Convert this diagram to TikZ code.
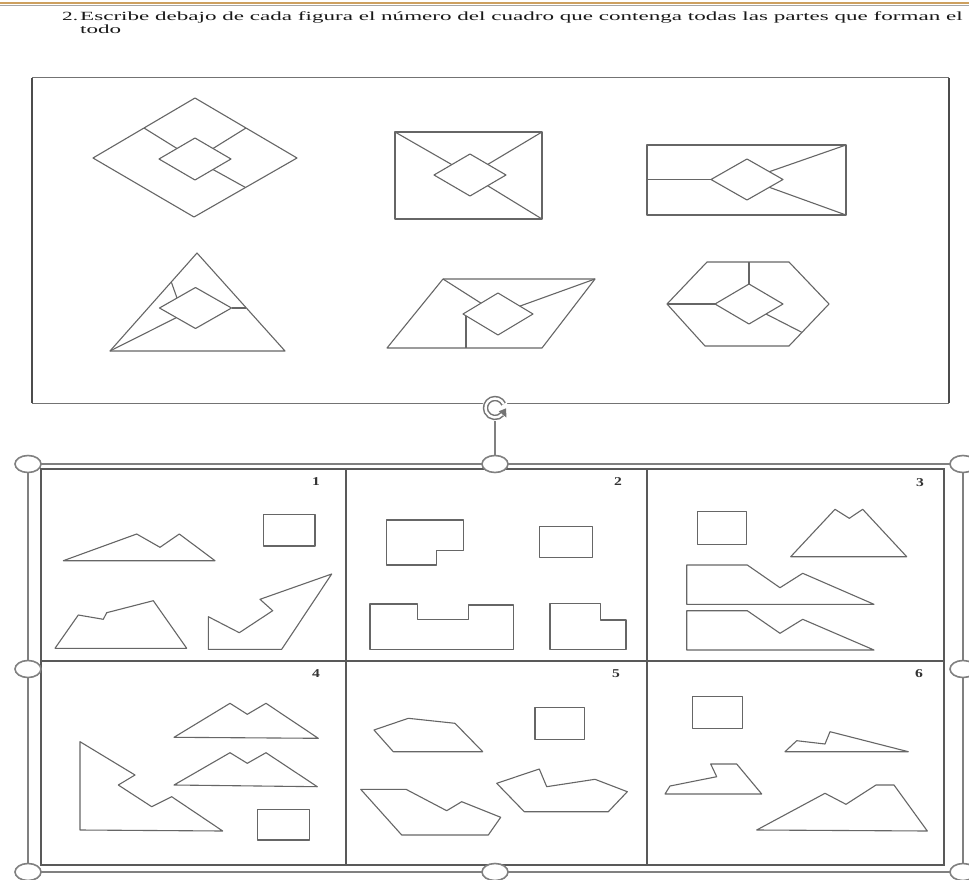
\documentclass[tikz,border=0pt]{standalone}
\usepackage{fontspec}
\setmainfont{Liberation Serif}
\usetikzlibrary{shapes.geometric}
\definecolor{figgray}{gray}{0.40}
\definecolor{gridgray}{gray}{0.35}
\definecolor{framegray}{gray}{0.50}
\definecolor{boxgray}{gray}{0.45}
\definecolor{tan}{RGB}{205,160,95}
\begin{document}
\begin{tikzpicture}[x=1pt,y=-1pt,
  fig/.style={draw=figgray,line width=1.1pt,line join=round},
  gridline/.style={draw=gridgray,line width=1.4pt},
  frameline/.style={draw=framegray,line width=1.2pt},
  handle/.style={ellipse,draw=framegray,line width=1.6pt,fill=white,minimum width=26pt,minimum height=17pt,inner sep=0pt},
  txt/.style={inner sep=0pt,anchor=base west,text=black!90},
  num/.style={inner sep=0pt,anchor=base,text=black!80,font=\bfseries\fontsize{12}{14}\selectfont}]
\useasboundingbox (0,0) rectangle (969,880);
\fill[white] (0,0) rectangle (969,880);
% top rule
\draw[tan,line width=2pt] (0,3) -- (969,3);
\draw[black!35,line width=0.6pt] (0,5.5) -- (969,5.5);
% heading
\node[txt] (n2) at (62,21) {\fontsize{12.5}{14}\selectfont\scalebox{1.7}[1]{2.}};
\node[txt] (head) at (80,21) {\fontsize{12.5}{14}\selectfont\scalebox{1.845}[1]{Escribe debajo de cada figura el número del cuadro que contenga todas las partes que forman el}};
\node[txt] (todo) at (80,34) {\fontsize{12.5}{14}\selectfont\scalebox{1.845}[1]{todo}};
% top box
\draw[draw=boxgray,line width=1pt] (32,78) -- (949,78);
\draw[draw=boxgray,line width=1pt] (32,403) -- (949,403);
\draw[draw=black!70,line width=2pt] (32,78) -- (32,403);
\draw[draw=black!70,line width=2pt] (949,78) -- (949,403);
% fig 1
\draw[fig] (195,98) -- (297,158) -- (194,217) -- (93,158) -- cycle;
\draw[fig] (195,138) -- (231,159) -- (195,180) -- (159,159) -- cycle;
\draw[fig] (144,128) -- (177,148.5);
\draw[fig] (246,128) -- (213,148.5);
\draw[fig] (213,169.5) -- (245.5,187.5);
% fig 2
\draw[fig] (395,132) rectangle (542,219);
\draw[fig] (470,154) -- (506,175) -- (470,196) -- (434,175) -- cycle;
\draw[fig] (395,132) -- (451.8,164.6);
\draw[fig] (542,132) -- (487.8,164.4);
\draw[fig] (542,219) -- (487.6,185.7);
% fig 3
\draw[fig] (647,145) rectangle (846,215);
\draw[fig] (747,159) -- (783,179.5) -- (747,200) -- (711,179.5) -- cycle;
\draw[fig] (647,179.5) -- (711,179.5);
\draw[fig] (846,145) -- (769.3,171.7);
\draw[fig] (846,215) -- (769.3,187.3);
% fig 4
\draw[fig] (197,253) -- (285,351) -- (110,351) -- cycle;
\draw[fig] (195.5,287.5) -- (231.5,308) -- (195.5,328.5) -- (159.5,308) -- cycle;
\draw[fig] (110,351) -- (176.4,317.6);
\draw[fig] (171.3,282) -- (177,298);
\draw[fig] (231.5,308) -- (246.4,308);
% fig 5
\draw[fig] (443,279) -- (595,279) -- (542,348) -- (387,348) -- cycle;
\draw[fig] (498,293) -- (533,314) -- (498,335) -- (463,314) -- cycle;
\draw[fig] (595,279) -- (519.9,306.1);
\draw[fig] (443,279) -- (481,303.2);
\draw[fig] (466,315.8) -- (466,348);
% fig 6
\draw[fig] (707,262) -- (789,262) -- (829,304) -- (789,346) -- (705,346) -- (667,304) -- cycle;
\draw[fig] (749,284) -- (783,304) -- (749,324) -- (715,304) -- cycle;
\draw[fig] (749,262) -- (749,284);
\draw[fig] (667,304) -- (715,304);
\draw[fig] (766,314) -- (802,332.4);
% selection frame
\draw[frameline] (28,464) rectangle (963,872);
% panel grid
\draw[gridline] (41,469) rectangle (944,865);
\draw[gridline] (346,469) -- (346,865);
\draw[gridline] (647,469) -- (647,865);
\draw[gridline] (41,661) -- (944,661);
% rotation icon and handles
\node[circle,minimum size=26pt,inner sep=0pt] (rot) at (495,408) {};
\node[handle] (hTL) at (28,464) {};
\node[handle] (hTM) at (495,464) {};
\node[handle] (hTR) at (963,464) {};
\node[handle] (hML) at (28,669) {};
\node[handle] (hMR) at (963,669) {};
\node[handle] (hBL) at (28,872) {};
\node[handle] (hBM) at (495,872) {};
\node[handle] (hBR) at (963,872) {};
\draw[frameline] (rot.south) -- (hTM.north);
\fill[white] (rot.center) circle (13pt);
\draw[draw=black!55,line width=1.5pt,double=white,double distance=2.4pt]
  ([shift={(25:9.5pt)}]rot.center) arc[start angle=25,end angle=320,radius=9.5pt];
\fill[black!55] ([shift={(-40:5pt)}]rot.center) -- ([shift={(-40:15pt)}]rot.center) -- ([shift={(-2:11pt)}]rot.center) -- cycle;
% panel numbers
\node[num] (p1) at (316,485) {\scalebox{1.3}[1]{1}};
\node[num] (p2) at (618,485) {\scalebox{1.3}[1]{2}};
\node[num] (p3) at (920,486) {\scalebox{1.3}[1]{3}};
\node[num] (p4) at (316,677) {\scalebox{1.3}[1]{4}};
\node[num] (p5) at (616,677) {\scalebox{1.3}[1]{5}};
\node[num] (p6) at (919,677) {\scalebox{1.3}[1]{6}};
% panel 1
\draw[fig] (263.3,514.3) rectangle (315,546);
\draw[fig] (63.3,560.7) -- (136.7,534) -- (160,547.3) -- (179.3,534) -- (215,560.7) -- cycle;
\draw[fig] (55,648.3) -- (78.3,615) -- (103.3,619.3) -- (106.7,612.7) -- (153.3,600.7) -- (186.7,648.3) -- cycle;
\draw[fig] (208.3,616.7) -- (239.3,632.7) -- (272.7,610.7) -- (260,599.3) -- (331.7,574) -- (281.7,649.3) -- (208.3,649.3) -- cycle;
% panel 2
\draw[fig] (386.7,520) -- (463.3,520) -- (463.3,550.7) -- (436.7,550.7) -- (436.7,565) -- (386.7,565) -- cycle;
\draw[fig] (539.3,526.7) rectangle (592.3,557.3);
\draw[fig] (370,604) -- (417.3,604) -- (417.3,619.3) -- (468.3,619.3) -- (468.3,605) -- (513.3,605) -- (513.3,649.3) -- (370,649.3) -- cycle;
\draw[fig] (550,603.3) -- (600.7,603.3) -- (600.7,620) -- (626,620) -- (626,649.3) -- (550,649.3) -- cycle;
% panel 3
\draw[fig] (697.3,511.7) rectangle (746.7,544.3);
\draw[fig] (790.7,556.7) -- (835,509.3) -- (849.3,518.3) -- (862.7,509.3) -- (906.7,556.7) -- cycle;
\draw[fig] (686.7,565) -- (747.3,565) -- (780,587.7) -- (802.7,573.3) -- (874,604.3) -- (686.7,604.3) -- cycle;
\draw[fig] (686.7,610.7) -- (747.3,610.7) -- (780,633.3) -- (802.7,619.3) -- (874,650) -- (686.7,650) -- cycle;
% panel 4
\draw[fig] (174,737.3) -- (230,703.3) -- (247.3,714.3) -- (266,703.3) -- (318.3,738.3) -- cycle;
\draw[fig] (174,785) -- (230,752.7) -- (247.3,763.3) -- (266,752.7) -- (317.3,786.7) -- cycle;
\draw[fig] (80,741.7) -- (135,775) -- (118.3,785) -- (151.7,806.7) -- (171.7,796.7) -- (222.7,831) -- (80,830) -- cycle;
\draw[fig] (257.7,809.3) rectangle (309.3,840);
% panel 5
\draw[fig] (374,730) -- (408.3,718.3) -- (455,723.3) -- (482.7,751.7) -- (393.3,751.7) -- cycle;
\draw[fig] (535,707.3) rectangle (584.3,739.3);
\draw[fig] (360.7,789.3) -- (406,789.3) -- (446.7,810.7) -- (461.7,801.7) -- (500.7,817.3) -- (488.3,835) -- (401.7,835) -- cycle;
\draw[fig] (496.7,783.3) -- (539.3,769) -- (546.7,786.7) -- (595,779.3) -- (627.3,791.7) -- (608.3,811.7) -- (524.3,811.7) -- cycle;
% panel 6
\draw[fig] (692.3,696.7) rectangle (742.3,728.3);
\draw[fig] (785,751.7) -- (796.7,740.7) -- (825,744) -- (830,731.7) -- (908.3,751.7) -- cycle;
\draw[fig] (665,794) -- (670,786) -- (716.7,776.7) -- (710.7,764) -- (736.7,764) -- (761.7,794) -- cycle;
\draw[fig] (756.7,830) -- (825,793.3) -- (846,804.3) -- (876,785) -- (894,785) -- (927.3,831) -- cycle;
\end{tikzpicture}
\end{document}
